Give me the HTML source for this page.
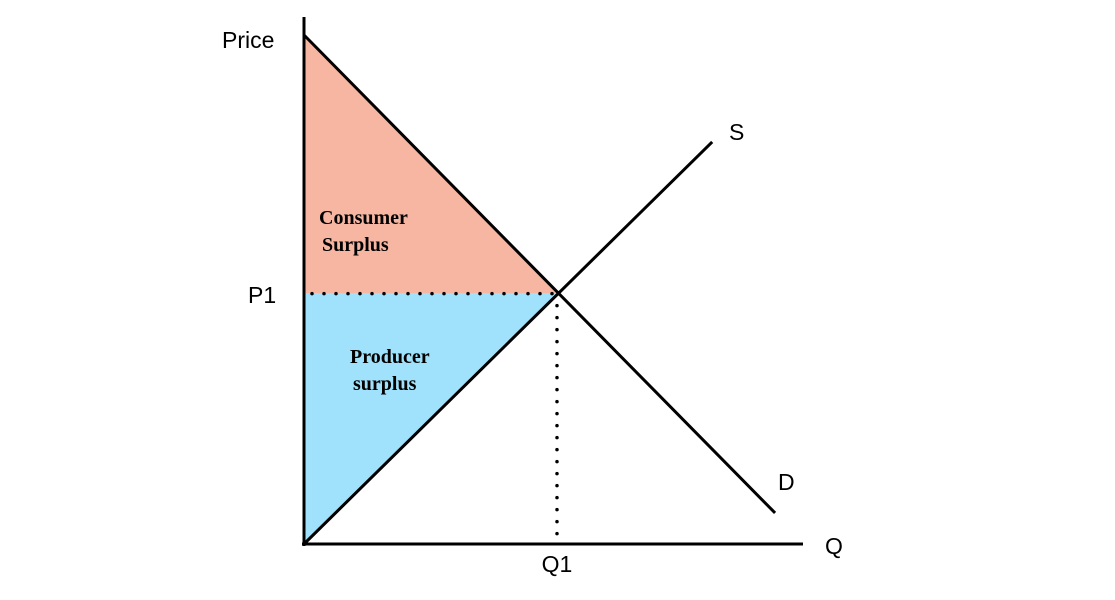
<!DOCTYPE html>
<html><head><meta charset="utf-8"><style>
html,body{margin:0;padding:0;background:#fff;width:1115px;height:600px;overflow:hidden}
svg text{font-family:"Liberation Sans",sans-serif}
.serif{font-family:"Liberation Serif",serif;font-weight:bold}
</style></head><body>
<svg id="chart" width="1115" height="600" viewBox="0 0 1115 600"></svg>
<script>
const demandQ = [0, 94.4];
const demandP = [100, 6.1];
const supplyQ = [0, 81.8];
const supplyP = [0, 79];
const equilibriumQ = [50.7];
const equilibriumP = [49.2];

const X = q => 304 + q * 4.99;
const Y = p => 544 - p * 5.09;
const svg = document.getElementById('chart');
const NS = 'http://www.w3.org/2000/svg';
function mk(tag, attrs, parent){const e=document.createElementNS(NS,tag);for(const k in attrs)e.setAttribute(k,attrs[k]);(parent||svg).appendChild(e);return e;}

const q1 = equilibriumQ[0], p1 = equilibriumP[0];
let cs = mk('polygon',{points:`${X(0)},${Y(demandP[0])} ${X(q1)},${Y(p1)} ${X(0)},${Y(p1)}`,fill:'#f6b6a2'});


let ps = mk('polygon',{points:`${X(0)},${Y(p1)} ${X(q1)},${Y(p1)} ${X(0)},${Y(0)}`,fill:'#a0e2fb'});



let dh = mk('line',{x1:X(0)+8,y1:Y(p1),x2:X(q1),y2:Y(p1),stroke:'#000','stroke-width':3.5,'stroke-dasharray':'0 12','stroke-linecap':'round'});


let dv = mk('line',{x1:X(q1),y1:Y(p1)+12,x2:X(q1),y2:Y(0)-4,stroke:'#000','stroke-width':3.5,'stroke-dasharray':'0 12','stroke-linecap':'round'});



let ya = mk('line',{x1:304,y1:17,x2:304,y2:546,stroke:'#000','stroke-width':3});


let xa = mk('line',{x1:302,y1:544,x2:803,y2:544,stroke:'#000','stroke-width':3});



let d = mk('line',{x1:X(demandQ[0]),y1:Y(demandP[0]),x2:X(demandQ[1]),y2:Y(demandP[1]),stroke:'#000','stroke-width':3});


let s = mk('line',{x1:X(supplyQ[0]),y1:Y(supplyP[0]),x2:X(supplyQ[1]),y2:Y(supplyP[1]),stroke:'#000','stroke-width':3});



function txt(name,x,y,str,size,cls,anchor){const t=mk('text',{x:x,y:y,'font-size':size,'text-anchor':anchor||'start'});if(cls)t.setAttribute('class',cls);t.textContent=str;


return t;}
txt('y-axis-title',222,48,'Price',23);
txt('p1-label',248,303,'P1',23);
txt('s-label',729,140,'S',23);
txt('d-label',778,490,'D',23);
txt('x-axis-title',825,554,'Q',23);
txt('q1-label',557,572,'Q1',23,null,'middle');
txt('consumer-surplus-label-1',319,224,'Consumer',20,'serif');
txt('consumer-surplus-label-2',322,251,'Surplus',20,'serif');
txt('producer-surplus-label-1',350,363,'Producer',20,'serif');
txt('producer-surplus-label-2',353,390,'surplus',20,'serif');
</script>
</body></html>
